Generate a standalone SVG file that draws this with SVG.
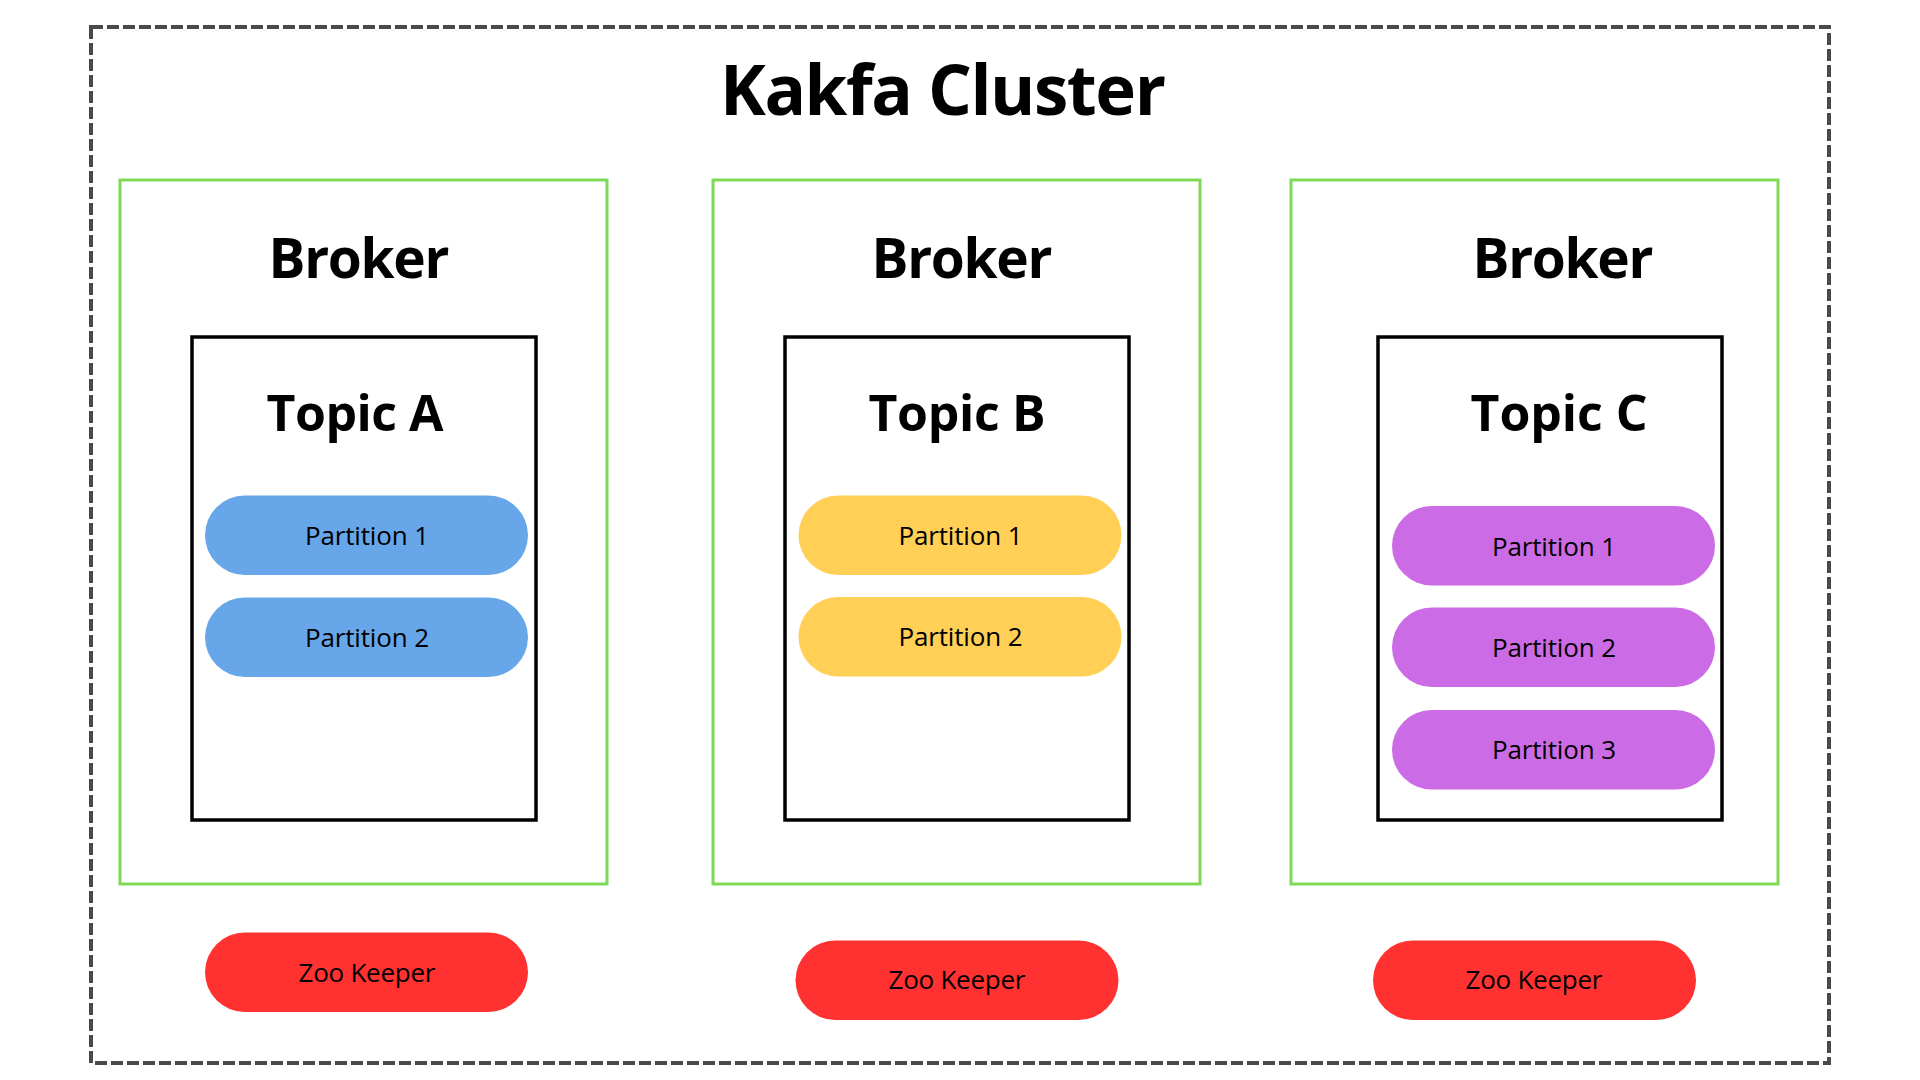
<svg xmlns="http://www.w3.org/2000/svg" width="1920" height="1080" viewBox="0 0 1920 1080">
  <style>
    .cluster { fill: none; stroke: #4a4a4a; stroke-width: 4; stroke-dasharray: 12 4; }
    .broker { fill: none; stroke: #7ed957; stroke-width: 3; }
    .topic { fill: none; stroke: #000000; stroke-width: 3.5; }
    .pa { fill: #67a6e9; }
    .pb { fill: #ffcf56; }
    .pc { fill: #cb6ce6; }
    .zk { fill: #ff3131; }
    .title { font-family: "Open Sans", "Liberation Sans", sans-serif; font-weight: 700; font-size: 69px; fill: #000; text-anchor: middle; }
    .h1 { font-family: "Open Sans", "Liberation Sans", sans-serif; font-weight: 700; font-size: 55px; fill: #000; text-anchor: middle; }
    .h2 { font-family: "Open Sans", "Liberation Sans", sans-serif; font-weight: 700; font-size: 50px; fill: #000; text-anchor: middle; }
    .lbl { font-family: "Open Sans", "Liberation Sans", sans-serif; font-weight: 400; font-size: 26px; fill: #000; text-anchor: middle; }
  </style>
  <rect width="1920" height="1080" fill="#ffffff"/>

  <g id="kafka-cluster">
    <rect class="cluster" x="91" y="27" width="1738" height="1036"/>
    <text class="title" x="943" y="115" textLength="446">Kakfa Cluster</text>
  </g>

  <!-- Broker A -->
  <g id="broker-a">
    <rect class="broker" x="120" y="180" width="487" height="704"/>
    <text class="h1" x="359" y="278" textLength="181">Broker</text>
  </g>
  <g id="topic-a">
    <rect class="topic" x="192" y="337" width="344" height="483"/>
    <text class="h2" x="355" y="431" textLength="177">Topic A</text>
  </g>
  <g id="topic-a-partition-1">
    <rect class="pa" x="205" y="495.5" width="323" height="79.5" rx="39.75"/>
    <text class="lbl" x="367" y="544.5" textLength="124">Partition 1</text>
  </g>
  <g id="topic-a-partition-2">
    <rect class="pa" x="205" y="597.5" width="323" height="79.5" rx="39.75"/>
    <text class="lbl" x="367" y="646.5" textLength="124">Partition 2</text>
  </g>
  <g id="zookeeper-a">
    <rect class="zk" x="205" y="932.5" width="323" height="79.5" rx="39.75"/>
    <text class="lbl" x="367" y="981.5" textLength="137">Zoo Keeper</text>
  </g>

  <!-- Broker B -->
  <g id="broker-b">
    <rect class="broker" x="713" y="180" width="487" height="704"/>
    <text class="h1" x="962" y="278" textLength="181">Broker</text>
  </g>
  <g id="topic-b">
    <rect class="topic" x="785" y="337" width="344" height="483"/>
    <text class="h2" x="957" y="431" textLength="177">Topic B</text>
  </g>
  <g id="topic-b-partition-1">
    <rect class="pb" x="798.5" y="495.5" width="323" height="79.5" rx="39.75"/>
    <text class="lbl" x="960.5" y="544.5" textLength="124">Partition 1</text>
  </g>
  <g id="topic-b-partition-2">
    <rect class="pb" x="798.5" y="597" width="323" height="79.5" rx="39.75"/>
    <text class="lbl" x="960.5" y="646" textLength="124">Partition 2</text>
  </g>
  <g id="zookeeper-b">
    <rect class="zk" x="795.5" y="940.5" width="323" height="79.5" rx="39.75"/>
    <text class="lbl" x="957" y="989" textLength="137">Zoo Keeper</text>
  </g>

  <!-- Broker C -->
  <g id="broker-c">
    <rect class="broker" x="1291" y="180" width="487" height="704"/>
    <text class="h1" x="1563" y="278" textLength="181">Broker</text>
  </g>
  <g id="topic-c">
    <rect class="topic" x="1378" y="337" width="344" height="483"/>
    <text class="h2" x="1559" y="431" textLength="177">Topic C</text>
  </g>
  <g id="topic-c-partition-1">
    <rect class="pc" x="1392" y="506" width="323" height="79.5" rx="39.75"/>
    <text class="lbl" x="1554" y="555.5" textLength="124">Partition 1</text>
  </g>
  <g id="topic-c-partition-2">
    <rect class="pc" x="1392" y="607.5" width="323" height="79.5" rx="39.75"/>
    <text class="lbl" x="1554" y="657" textLength="124">Partition 2</text>
  </g>
  <g id="topic-c-partition-3">
    <rect class="pc" x="1392" y="710" width="323" height="79.5" rx="39.75"/>
    <text class="lbl" x="1554" y="759" textLength="124">Partition 3</text>
  </g>
  <g id="zookeeper-c">
    <rect class="zk" x="1373" y="940.5" width="323" height="79.5" rx="39.75"/>
    <text class="lbl" x="1534" y="989" textLength="137">Zoo Keeper</text>
  </g>
</svg>
